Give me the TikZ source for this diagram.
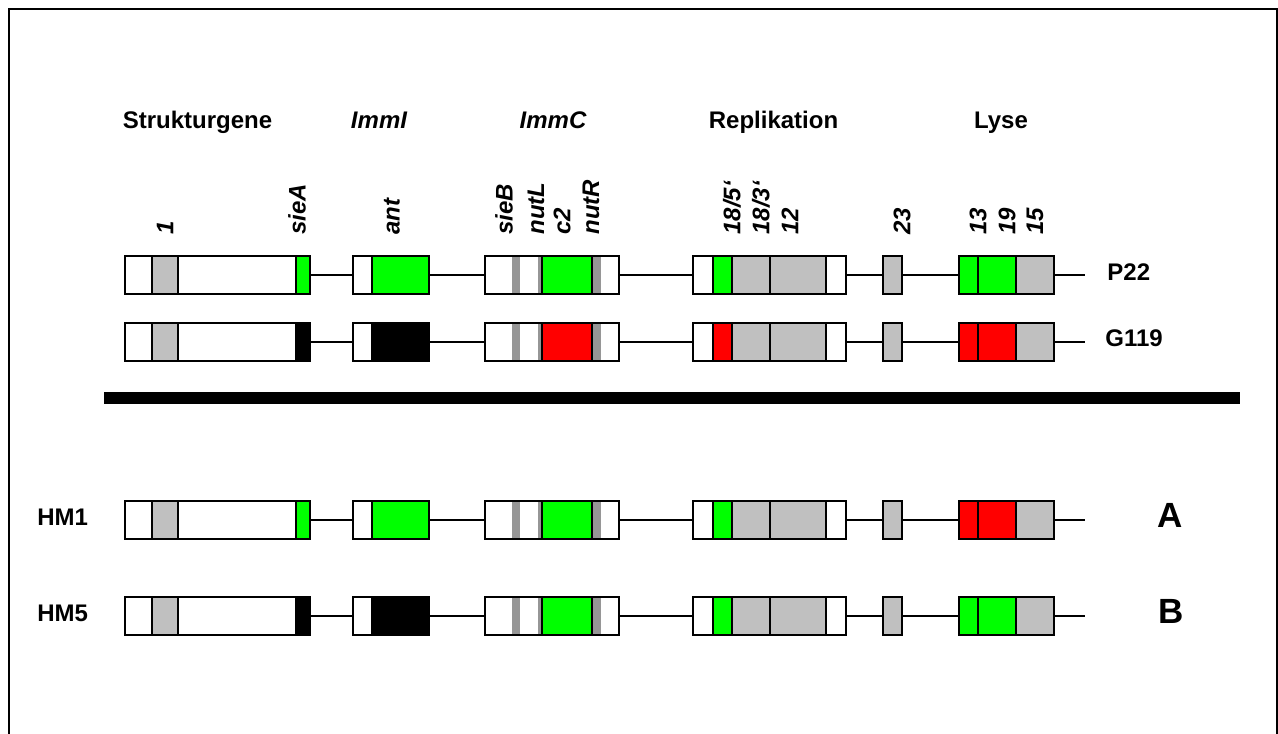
\documentclass[tikz,border=0pt]{standalone}
\usepackage{fontspec}
\setmainfont{Liberation Sans}
\usetikzlibrary{positioning}
\definecolor{genegreen}{RGB}{0,255,0}
\definecolor{genered}{RGB}{255,0,0}
\definecolor{genegray}{RGB}{192,192,192}
\definecolor{stripegray}{RGB}{150,150,150}

\begin{document}
\begin{tikzpicture}[
    x=0.5pt, y=-0.5pt,
    seg/.style={rectangle, draw=black, line width=1pt, fill=white,
                minimum height=19pt, inner sep=0pt, outer sep=0pt},
    stripe/.style={rectangle, fill=stripegray, minimum height=18pt,
                inner sep=0pt, outer sep=0pt},
    link/.style={line width=1pt},
    head/.style={font=\fontsize{12}{14}\selectfont\bfseries, anchor=base},
    gene/.style={font=\fontsize{12}{14}\selectfont\bfseries\itshape,
                 rotate=90, anchor=west, inner sep=0pt},
    strain/.style={font=\fontsize{12}{14}\selectfont\bfseries,
                   anchor=base west, inner sep=0pt},
    variant/.style={font=\fontsize{17.5}{20}\selectfont\bfseries,
                    anchor=base, inner sep=0pt}
]
\useasboundingbox (0,0) rectangle (1278,733);
\clip (0,0) rectangle (1278,733);

% Frame (open at the bottom)
\draw[line width=0.75pt] (9,760) -- (9,9) -- (1277,9) -- (1277,760);

% Region headings
\node[head] (h-struct) at (197.5,128) {Strukturgene};
\node[head] (h-immi) at (379,128) {\itshape ImmI};
\node[head] (h-immc) at (553,128) {\itshape ImmC};
\node[head] (h-repl) at (773.5,128) {Replikation};
\node[head] (h-lyse) at (1001,128) {Lyse};

% Gene names
\node[gene] (l-1) at (165,235) {1};
\node[gene] (l-sieA) at (297,235) {sieA};
\node[gene] (l-ant) at (392,235) {ant};
\node[gene] (l-sieB) at (504,235) {sieB};
\node[gene] (l-nutL) at (536,235) {nutL};
\node[gene] (l-c2) at (562,235) {c2};
\node[gene] (l-nutR) at (591,235) {nutR};
\node[gene] (l-18a) at (732,235) {18/5\textquoteleft};
\node[gene] (l-18b) at (761,235) {18/3\textquoteleft};
\node[gene] (l-12) at (790,235) {12};
\node[gene] (l-23) at (902,235) {23};
\node[gene] (l-13) at (978,235) {13};
\node[gene] (l-19) at (1007,235) {19};
\node[gene] (l-15) at (1035,235) {15};

% Genome maps: name / y / sieA / ant / c2 / 18 / lysis colours
\foreach \row/\yy/\ca/\cb/\cc/\cd/\ce in {
    p22/275/genegreen/genegreen/genegreen/genegreen/genegreen,
    g119/341.5/black/black/genered/genered/genered,
    hma/520/genegreen/genegreen/genegreen/genegreen/genered,
    hmb/616/black/black/genegreen/genegreen/genegreen} {
  % Strukturgene
  \node[seg, minimum width=13.5pt, anchor=west] (\row-st) at (125,\yy) {};
  \node[seg, fill=genegray, minimum width=13pt, right=0pt of \row-st] (\row-g1) {};
  \node[seg, minimum width=59pt, right=0pt of \row-g1] (\row-st2) {};
  \node[seg, fill=\ca, minimum width=7pt, right=0pt of \row-st2] (\row-sieA) {};
  % ImmI
  \node[seg, minimum width=9.5pt, anchor=west] (\row-im) at (353,\yy) {};
  \node[seg, fill=\cb, minimum width=28.5pt, right=0pt of \row-im] (\row-ant) {};
  % ImmC
  \node[seg, minimum width=67pt, anchor=west] (\row-imc) at (485,\yy) {};
  \node[stripe, minimum width=4pt, anchor=west] (\row-sieB) at (512,\yy) {};
  \node[stripe, minimum width=2pt, anchor=west] (\row-nutL) at (538,\yy) {};
  \node[seg, fill=\cc, minimum width=25pt, anchor=west] (\row-c2) at (542,\yy) {};
  \node[stripe, minimum width=4pt, right=0.5pt of \row-c2] (\row-nutR) {};
  % Replikation
  \node[seg, minimum width=10pt, anchor=west] (\row-re) at (693,\yy) {};
  \node[seg, fill=\cd, minimum width=9.5pt, right=0pt of \row-re] (\row-g18a) {};
  \node[seg, fill=genegray, minimum width=19pt, right=0pt of \row-g18a] (\row-g18b) {};
  \node[seg, fill=genegray, minimum width=28pt, right=0pt of \row-g18b] (\row-g12) {};
  \node[seg, minimum width=10pt, right=0pt of \row-g12] (\row-re2) {};
  % gene 23
  \node[seg, fill=genegray, minimum width=9.5pt, anchor=west] (\row-g23) at (883,\yy) {};
  % Lyse
  \node[seg, fill=\ce, minimum width=9.5pt, anchor=west] (\row-g13) at (959,\yy) {};
  \node[seg, fill=\ce, minimum width=19pt, right=0pt of \row-g13] (\row-g19) {};
  \node[seg, fill=genegray, minimum width=19pt, right=0pt of \row-g19] (\row-g15) {};
  \coordinate (\row-end) at (1085,\yy);
  % backbone
  \draw[link] (\row-sieA) -- (\row-im);
  \draw[link] (\row-ant) -- (\row-imc);
  \draw[link] (\row-imc) -- (\row-re);
  \draw[link] (\row-re2) -- (\row-g23);
  \draw[link] (\row-g23) -- (\row-g13);
  \draw[link] (\row-g15) -- (\row-end);
}

% Strain names
\node[strain] (n-p22) at (1107,280) {P22};
\node[strain] (n-g119) at (1105,346.7) {G119};
\node[strain] (n-hm1) at (37,525) {HM1};
\node[strain] (n-hm5) at (37,621.7) {HM5};
\node[variant] (v-a) at (1170.5,527) {A};
\node[variant] (v-b) at (1171,623) {B};

% Separator
\fill (104,392) rectangle (1240,404);

\end{tikzpicture}
\end{document}
